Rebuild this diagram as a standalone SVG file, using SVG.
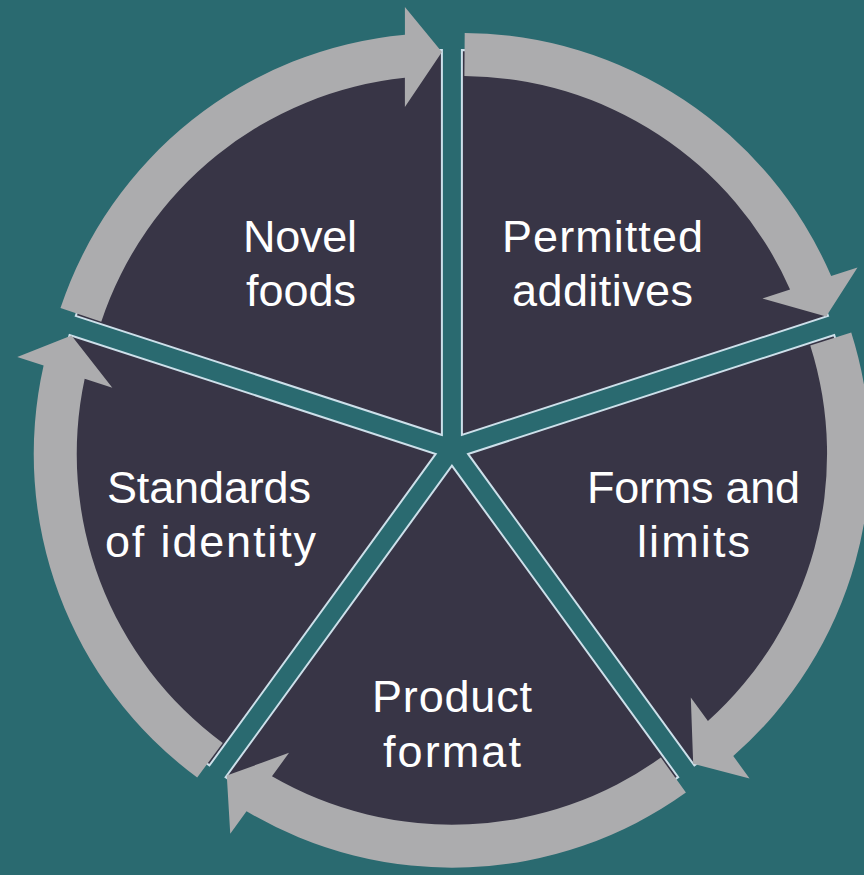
<svg xmlns="http://www.w3.org/2000/svg" xmlns:xlink="http://www.w3.org/1999/xlink" width="864" height="875" viewBox="0 0 864 875">
  <style>
    .wedge { fill: #383546; stroke: #cde0ea; stroke-width: 2; }
    .arrow { fill: #acacae; stroke: none; }
    .label { fill: #ffffff; font-family: "Liberation Sans", Arial, sans-serif; font-size: 45px; text-anchor: middle; }
  </style>
  <defs>
    <path id="wedgeShape" d="M0,0 L-226.30,-311.47 A385,385 0 0 1 226.30,-311.47 Z"/>
    <path id="arrowShape" d="M-208.98,-291.89 L-234.01,-326.85 A402,402 0 0 1 205.37,-345.58 L221.64,-368.01 L225.12,-309.85 L162.86,-287.11 L179.93,-310.65 A359,359 0 0 0 -208.98,-291.89 Z"/>
  </defs>
  <rect x="0" y="0" width="864" height="875" fill="#2a6a70"/>

  <g id="node-permitted">
    <use xlink:href="#wedgeShape" href="#wedgeShape" class="wedge" transform="translate(461.9,434.95) rotate(36)"/>
  </g>
  <g id="node-forms">
    <use xlink:href="#wedgeShape" href="#wedgeShape" class="wedge" transform="translate(468.07,453.95) rotate(108)"/>
  </g>
  <g id="node-product">
    <use xlink:href="#wedgeShape" href="#wedgeShape" class="wedge" transform="translate(451.9,465.7) rotate(180)"/>
  </g>
  <g id="node-standards">
    <use xlink:href="#wedgeShape" href="#wedgeShape" class="wedge" transform="translate(435.73,453.95) rotate(252)"/>
  </g>
  <g id="node-novel">
    <use xlink:href="#wedgeShape" href="#wedgeShape" class="wedge" transform="translate(441.91,434.95) rotate(324)"/>
  </g>

  <g id="connectors">
    <use xlink:href="#arrowShape" href="#arrowShape" class="arrow" transform="translate(461.9,434.95) rotate(36)"/>
    <use xlink:href="#arrowShape" href="#arrowShape" class="arrow" transform="translate(468.07,453.95) rotate(108)"/>
    <use xlink:href="#arrowShape" href="#arrowShape" class="arrow" transform="translate(451.9,465.7) rotate(180)"/>
    <use xlink:href="#arrowShape" href="#arrowShape" class="arrow" transform="translate(435.73,453.95) rotate(252)"/>
    <use xlink:href="#arrowShape" href="#arrowShape" class="arrow" transform="translate(441.91,434.95) rotate(324)"/>
  </g>

  <g id="labels">
    <text class="label" x="602.5" y="252" textLength="201" lengthAdjust="spacing">Permitted</text>
    <text class="label" x="602.5" y="306" textLength="181" lengthAdjust="spacing">additives</text>
    <text class="label" x="693.5" y="503" textLength="213" lengthAdjust="spacing">Forms and</text>
    <text class="label" x="693.5" y="557" textLength="113" lengthAdjust="spacing">limits</text>
    <text class="label" x="452" y="712" textLength="160" lengthAdjust="spacing">Product</text>
    <text class="label" x="452" y="767" textLength="138" lengthAdjust="spacing">format</text>
    <text class="label" x="209" y="503" textLength="204" lengthAdjust="spacing">Standards</text>
    <text class="label" x="210.5" y="557" textLength="211" lengthAdjust="spacing">of identity</text>
    <text class="label" x="300" y="252" textLength="114" lengthAdjust="spacing">Novel</text>
    <text class="label" x="301" y="306" textLength="110" lengthAdjust="spacing">foods</text>
  </g>
</svg>
